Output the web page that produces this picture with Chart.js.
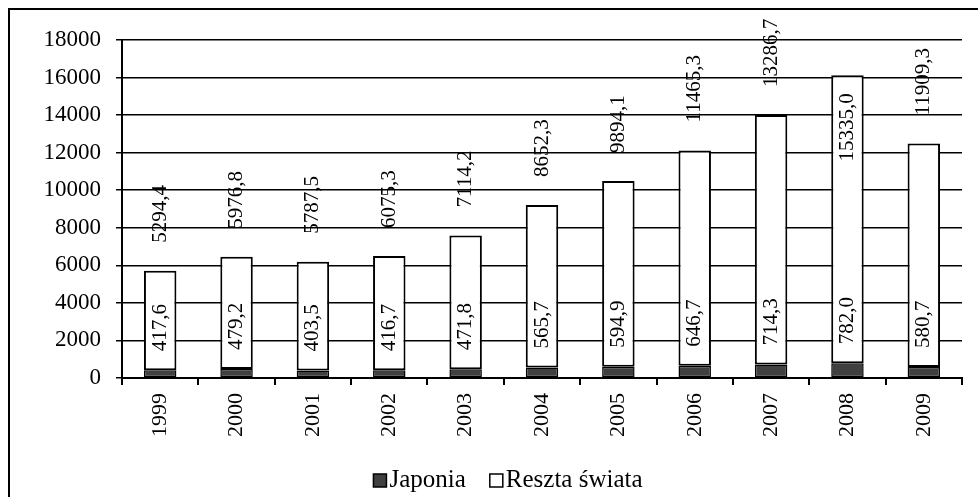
<!DOCTYPE html>
<html>
<head>
<meta charset="utf-8">
<script src="https://cdn.jsdelivr.net/npm/chart.js@4"></script>
<style>
  html, body { margin: 0; padding: 0; background: #fff; }
  #wrap { width: 978px; height: 497px; position: relative; }
</style>
</head>
<body>
<div id="wrap"><canvas id="myChart" width="978" height="497"></canvas></div>
<script>
const years = ['1999', '2000', '2001', '2002', '2003', '2004', '2005', '2006', '2007', '2008', '2009'];
const japonia = [417.6, 479.2, 403.5, 416.7, 471.8, 565.7, 594.9, 646.7, 714.3, 782.0, 580.7];
const resztaSwiata = [5294.4, 5976.8, 5787.5, 6075.3, 7114.2, 8652.3, 9894.1, 11465.3, 13286.7, 15335.0, 11909.3];

const FONT = 'Liberation Serif, Times New Roman, serif';
const fmt = v => v.toFixed(1).replace('.', ',');

// white background + outer frame
const framePlugin = {
  id: 'frame',
  beforeDraw(chart) {
    const ctx = chart.ctx;
    ctx.save();
    ctx.fillStyle = '#fff';
    ctx.fillRect(0, 0, chart.width, chart.height);
    ctx.strokeStyle = '#000';
    ctx.lineWidth = 2;
    ctx.strokeRect(9, 9, chart.width + 20, chart.height + 20);
    ctx.restore();
  }
};

// rotated value labels
const labelPlugin = {
  id: 'valueLabels',
  afterDatasetsDraw(chart) {
    const ctx = chart.ctx;
    ctx.save();
    ctx.font = '21px ' + FONT;
    ctx.fillStyle = '#000';
    ctx.textBaseline = 'middle';
    const m0 = chart.getDatasetMeta(0);
    const m1 = chart.getDatasetMeta(1);
    years.forEach((y, i) => {
      const a = m0.data[i], b = m1.data[i];
      // Japonia
      let t = fmt(japonia[i]);
      ctx.save();
      ctx.translate(a.x, a.y - 19);
      ctx.rotate(-Math.PI / 2);
      ctx.textAlign = 'left';
      ctx.fillText(t, 0, 0);
      ctx.restore();
      // Reszta świata
      t = fmt(resztaSwiata[i]);
      const w = ctx.measureText(t).width;
      ctx.save();
      if (b.y - 28 - w < 0) {
        ctx.translate(b.x, b.y + 18);
        ctx.rotate(-Math.PI / 2);
        ctx.textAlign = 'right';
      } else {
        ctx.translate(b.x, b.y - 28);
        ctx.rotate(-Math.PI / 2);
        ctx.textAlign = 'left';
      }
      ctx.fillText(t, 0, 0);
      ctx.restore();
    });
    ctx.restore();
  }
};

// legend drawn by hand (box right next to text, like Excel)
const legendPlugin = {
  id: 'excelLegend',
  afterDraw(chart) {
    const ctx = chart.ctx;
    const items = chart.data.datasets.map(d => ({ text: d.label, fill: d.backgroundColor }));
    ctx.save();
    ctx.font = '25px ' + FONT;
    ctx.textBaseline = 'alphabetic';
    ctx.textAlign = 'left';
    const box = 13, gap = 3, spacing = 24;
    const total = items.reduce((s, it) => s + box + gap + ctx.measureText(it.text).width, 0) + spacing * (items.length - 1);
    let x = 508 - total / 2;
    const base = 487;
    items.forEach(it => {
      ctx.fillStyle = it.fill;
      ctx.fillRect(x, base - box, box, box);
      ctx.strokeStyle = '#000';
      ctx.lineWidth = 1.5;
      ctx.strokeRect(x, base - box, box, box);
      ctx.fillStyle = '#000';
      ctx.fillText(it.text, x + box + gap, base);
      x += box + gap + ctx.measureText(it.text).width + spacing;
    });
    ctx.restore();
  }
};

new Chart(document.getElementById('myChart'), {
  type: 'bar',
  data: {
    labels: years,
    datasets: [
      {
        label: 'Japonia',
        data: japonia,
        backgroundColor: '#404040',
        borderColor: '#000',
        borderWidth: 1.5,
        borderSkipped: false,
        barPercentage: 0.85,
        categoryPercentage: 0.5
      },
      {
        label: 'Reszta świata',
        data: resztaSwiata,
        backgroundColor: '#fff',
        borderColor: '#000',
        borderWidth: 2,
        borderSkipped: false,
        barPercentage: 0.85,
        categoryPercentage: 0.5
      }
    ]
  },
  options: {
    responsive: false,
    animation: false,
    layout: { padding: { left: 20, right: 16, top: 40, bottom: 52 } },
    plugins: {
      legend: { display: false },
      tooltip: { enabled: false }
    },
    scales: {
      x: {
        stacked: true,
        grid: { offset: true, drawOnChartArea: false, drawTicks: true, tickLength: 7, color: '#000', lineWidth: 2 },
        border: { color: '#000', width: 2 },
        ticks: {
          minRotation: 90, maxRotation: 90, padding: 8,
          color: '#000', font: { family: FONT, size: 22 }
        }
      },
      y: {
        stacked: true,
        min: 0, max: 18000,
        afterFit(scale) { scale.width = 102; },
        grid: { color: '#000', lineWidth: 1.5, tickLength: 6 },
        border: { color: '#000', width: 2 },
        ticks: {
          stepSize: 2000, padding: 15,
          color: '#000', font: { family: FONT, size: 23 },
          callback: v => String(v)
        }
      }
    }
  },
  plugins: [framePlugin, labelPlugin, legendPlugin]
});
</script>
</body>
</html>
